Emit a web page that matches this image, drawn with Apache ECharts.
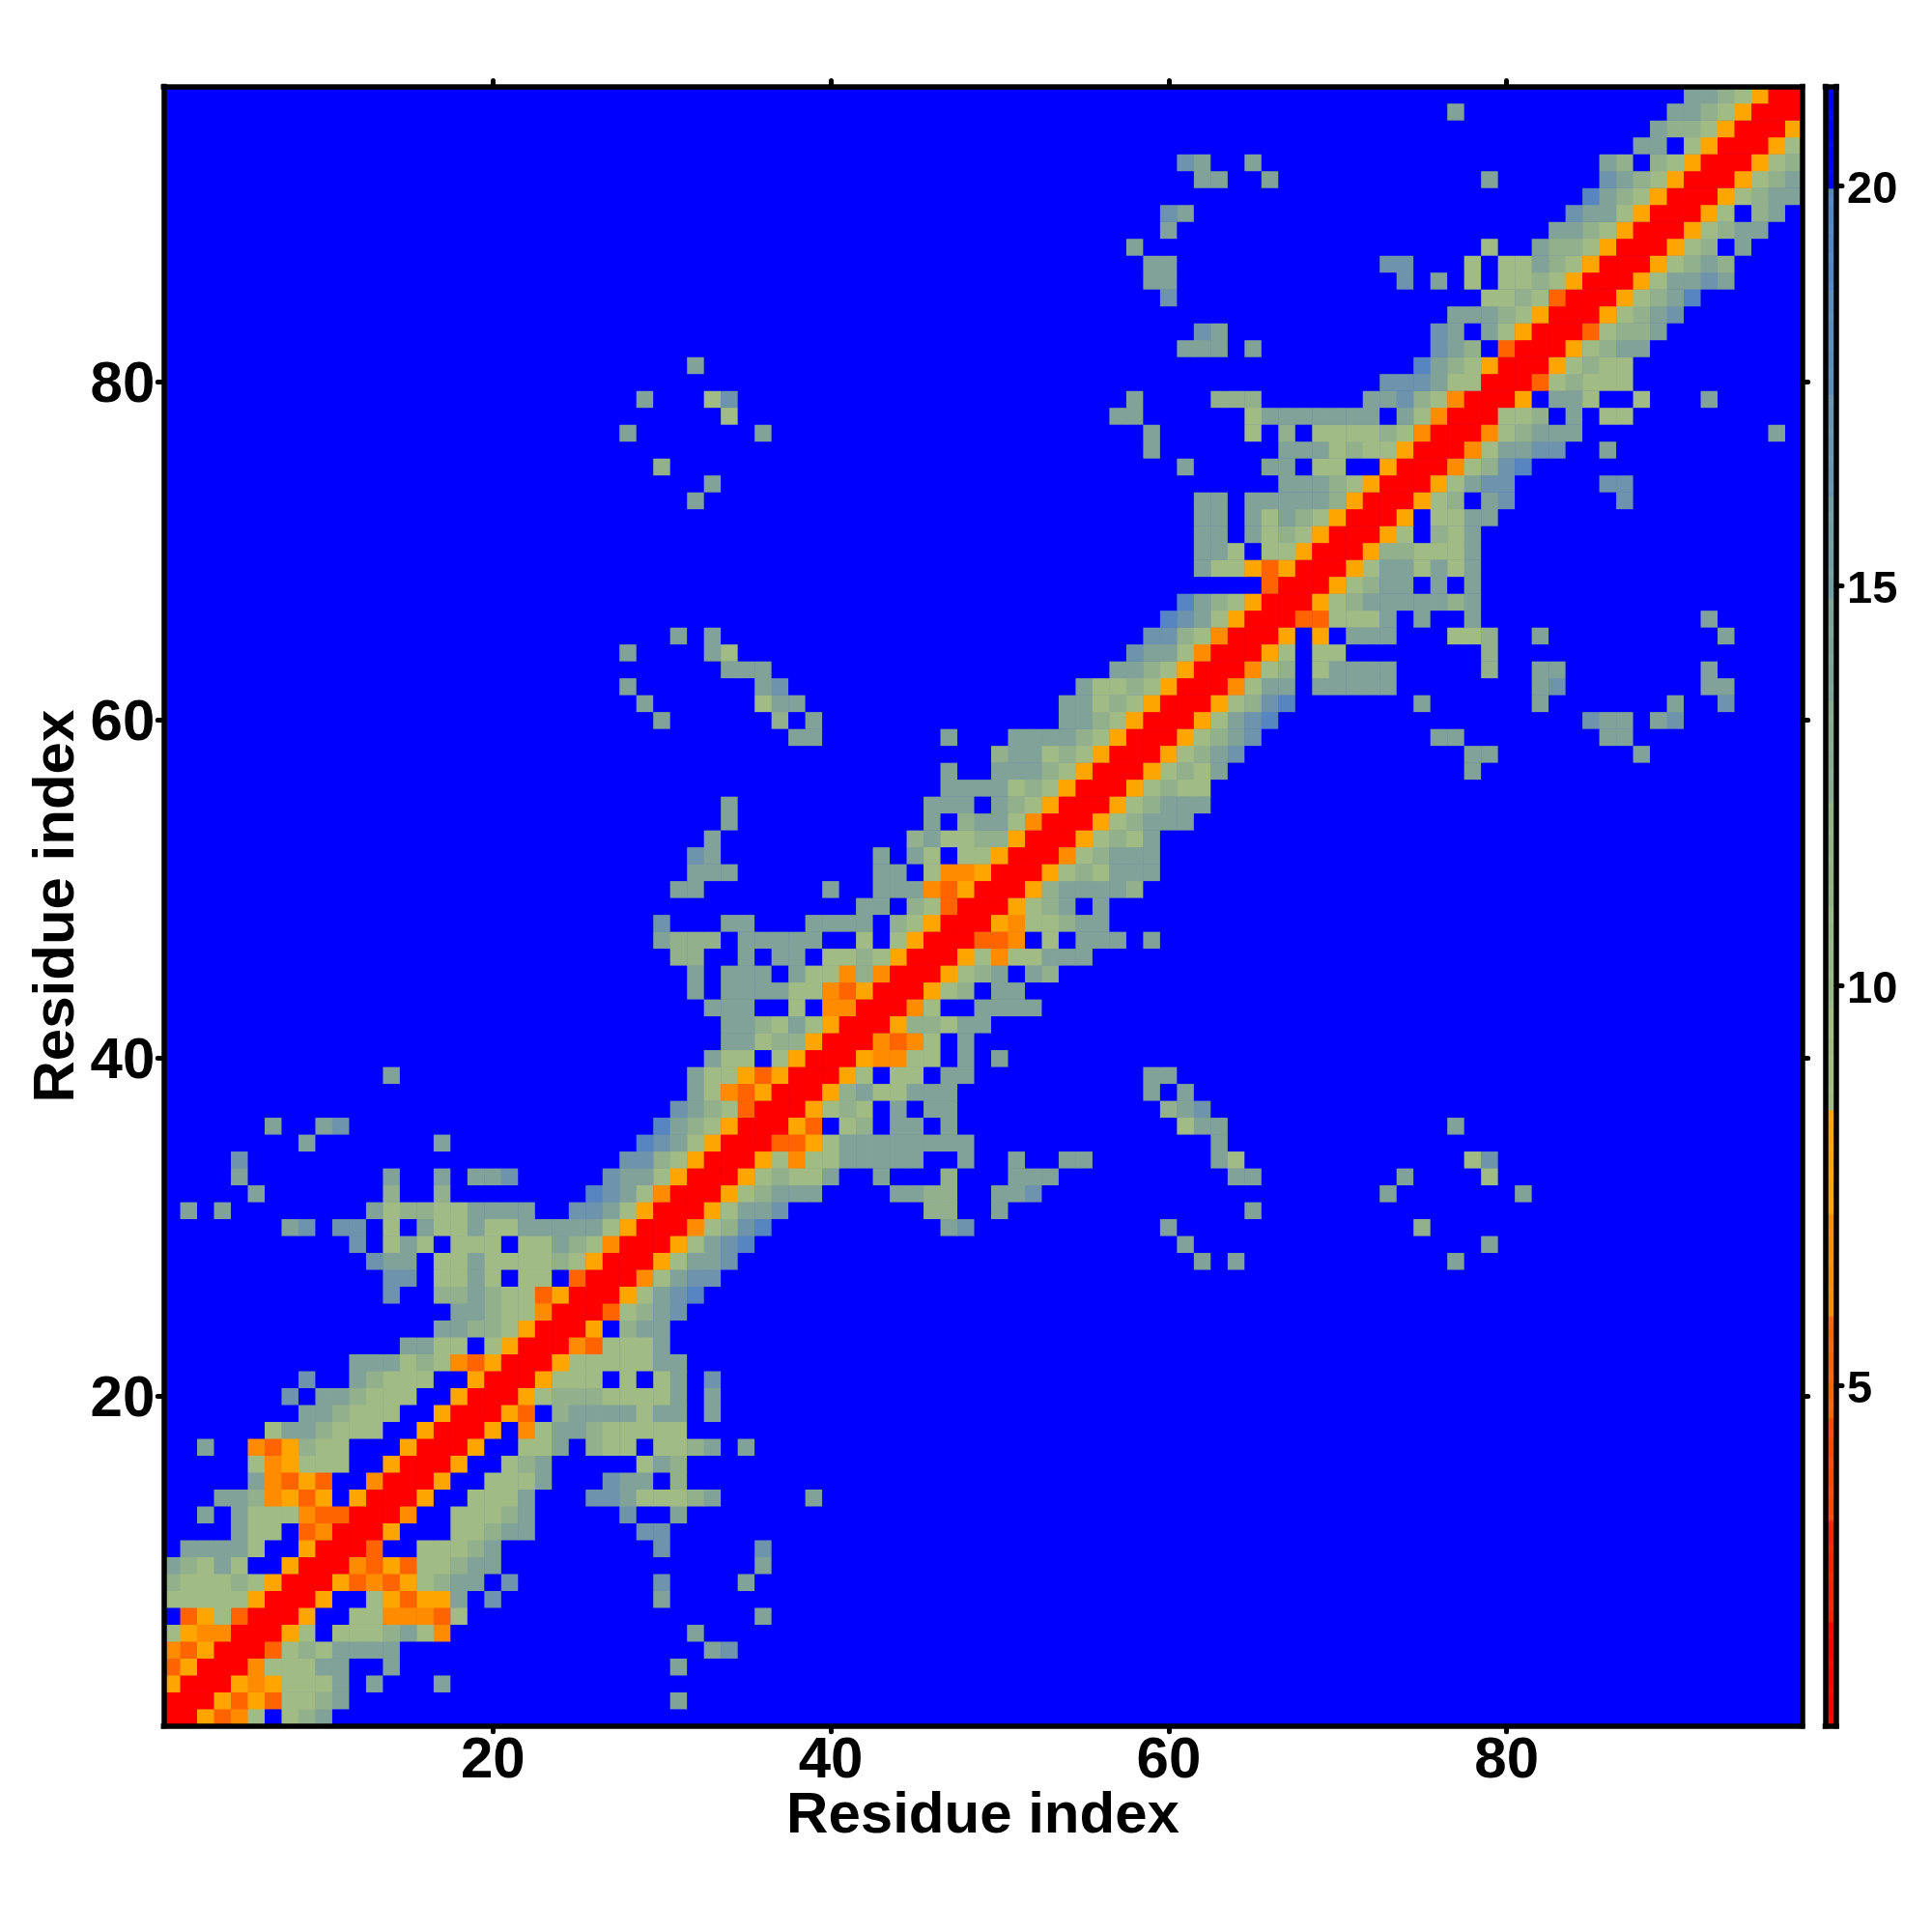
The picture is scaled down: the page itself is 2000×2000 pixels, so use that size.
<!DOCTYPE html>
<html>
<head>
<meta charset="utf-8">
<style>html,body{margin:0;padding:0;background:#fff}#c{width:2000px;height:2000px}</style>
<script src="https://cdn.jsdelivr.net/npm/echarts@6/dist/echarts.min.js"></script>
</head>
<body>
<div id="c"></div>
<script>
// Distance-map rows: each string starts on the diagonal (x = row) and runs along x.
const bandRows = [
"rraod1.123","rraoao1123","rrada1113.3...3","rrd11133..3","rro1213333","rra1.111231d","rra..11dddo1","rra..1aoaa3.4",
"rraodoa1233.4","rrdoao11233","rro..11123","rra...11233","rrd..11123","rra..1113","rra..1113","rra..123",
"rra..113.211.1123.3","rra.d133211111","rrao.23333133.3","rra122211113.3","rra111.1.13.4","rra1111133","rrdo1113","rra.233",
"rro1234","rra1345","rrd1344","rra1334","rra1345","rrd1245","rra1334","rra12333",
"rra12113","rra1d1133333","rrooa133333333","rrao.12.33.3","rra121.3.33","rra2311333","rra1.11.33","rradd11.3.3",
"rrdod1.3","rra22133","rrd1..3333","rra12.33","rra123.32","rra1d11333","rrood.1.333.3","rrad11233",
"rra123.3","rra233332","rra121333","rrd12333","rra1213","rra12333","rra12333","rra1211",
"rra1213","rra1234","rra1234","rra1345","rra1245","rrd133.33333","rrd12.13333","rra1.11",
"rra.a.333","rroo1113.3","rra123333323","rra1233.3.3","rra1331313","rra221113","rra1.213","rra.1133",
"rra12.34","rra1344","rrd1245","rrd13344","rrd12333","rr112.3.11","rra.331..1","rro12111",
"rra1211","rra1233","rro1223","rra1234","rra1235","rra13343","rra1232","rra12.3",
"rra1233","rra1.23","rra1233","rra123","rra12","rra1","rra","rr","r"
];
// Isolated long-range contacts: [row, column, level]
const contacts = [
[2,31,"3"],[4,31,"3"],[5,33,"3"],[5,34,"4"],[6,32,"3"],[7,36,"3"],[8,30,"3"],[9,30,"4"],[9,35,"3"],[10,36,"3"],
[11,30,"4"],[11,36,"4"],[12,29,"4"],[12,30,"4"],[13,28,"4"],[13,31,"3"],
[14,26,"4"],[14,27,"4"],[14,28,"3"],[14,29,"1"],[14,30,"1"],[14,31,"1"],[14,32,"2"],[14,33,"3"],[14,39,"3"],
[15,27,"4"],[15,28,"3"],[15,29,"3"],[15,31,"2"],[16,29,"1"],[16,30,"3"],[16,31,"2"],
[28,62,"3"],[28,64,"3"],[28,77,"3"],[29,61,"3"],[29,79,"3"],
[30,47,"3"],[30,48,"4"],[30,60,"3"],[30,75,"2"],
[31,46,"2"],[31,47,"2"],[31,50,"3"],[31,65,"3"],
[32,44,"3"],[32,45,"3"],[32,46,"2"],[32,47,"2"],[32,50,"3"],[32,51,"3"],[32,52,"4"],[32,73,"3"],[32,81,"3"],
[33,43,"3"],[33,47,"2"],[33,51,"3"],[33,52,"3"],[33,53,"3"],[33,64,"3"],[33,65,"3"],[33,74,"3"],[33,79,"1"],
[34,48,"3"],[34,51,"3"],[34,54,"3"],[34,55,"3"],[34,63,"3"],[34,64,"1"],[34,78,"1"],[34,79,"4"],
[35,63,"3"],[36,61,"1"],[36,62,"3"],[36,63,"3"],[36,77,"3"],
[37,60,"2"],[37,61,"3"],[37,62,"4"],[38,59,"3"],[38,61,"3"],[39,59,"3"],[39,60,"3"],
[57,78,"3"],[58,78,"3"],[58,79,"3"],[58,88,"3"],
[59,76,"3"],[59,77,"3"],[59,86,"3"],[59,87,"3"],
[60,85,"4"],[60,86,"3"],[60,87,"3"],[60,89,"3"],[60,90,"4"],
[61,75,"3"],[61,82,"3"],[61,90,"3"],[61,93,"4"],
[62,82,"3"],[62,83,"4"],[62,92,"3"],[62,93,"3"],
[63,79,"2"],[63,82,"3"],[63,83,"3"],[63,92,"3"],[64,79,"2"],
[65,77,"1"],[65,78,"1"],[65,79,"2"],[65,82,"3"],[65,93,"3"],[66,78,"3"],[66,92,"3"],
[73,87,"4"],[74,86,"4"],[74,87,"4"],[76,86,"3"],[77,96,"3"],[79,92,"3"]
];
// Estimated value (Å) for each cell code
const levelValues = {r:1.4,o:5.2,d:6.5,a:7.8,"1":9.1,"2":11.7,"3":14.2,"4":16.8,"5":19.3,".":20.6};
const bandEdges = [0.7,2.03,3.31,4.59,5.87,7.15,8.44,9.72,11.0,12.28,13.56,14.84,16.12,17.4,18.68,19.97,21.3];
const bandColors = ["#ff0000","#ff2200","#ff4800","#ff6400","#ff8c00","#ffa500","#a1bb85","#9ab689","#93b08c","#8aaa91","#80a298","#789ca3","#6d94ac","#618cb6","#5685c2","#0000ff"];
const residueCount = 97;
const axisTicks = [20,40,60,80];
const colorbarTicks = [5,10,15,20];
const axisTitle = "Residue index";

const residues = Array.from({length:residueCount},(_,i)=>String(i+1));
const cells = Array.from({length:residueCount},()=>new Array(residueCount).fill(levelValues["."]));
function setCell(row,col,level){ cells[row-1][col-1]=levelValues[level]; cells[col-1][row-1]=levelValues[level]; }
bandRows.forEach((s,i)=>{ for(let k=0;k<s.length;k++) if(s[k]!==".") setCell(i+1,i+1+k,s[k]); });
contacts.forEach(c=>setCell(c[0],c[1],c[2]));
const mapData=[];
for(let y=0;y<residueCount;y++) for(let x=0;x<residueCount;x++) mapData.push([x,y,cells[y][x]]);

const scaleSteps = Array.from({length:820},(_,i)=>(0.75+0.025*i).toFixed(3));
const scaleData = scaleSteps.map((v,i)=>[0,i,Number(v)]);
const pieces = bandColors.map((c,i)=>({gte:bandEdges[i],lt:bandEdges[i+1],color:c}));

const font = "Liberation Sans";
const mainTick = (i,v)=>axisTicks.includes(Number(v));
const barTick = (i,v)=>colorbarTicks.includes(Number(v));
const line = {show:true,onZero:false,lineStyle:{color:"#000",width:5.5,cap:"square"}};
const tick = (interval,len)=>({show:true,inside:false,length:len,alignWithLabel:true,interval,lineStyle:{color:"#000",width:5,cap:"round"}});
const mainLabel = {show:true,interval:mainTick,color:"#000",fontFamily:font,fontWeight:"bold",fontSize:60};
const nameStyle = {color:"#000",fontFamily:font,fontWeight:"bold",fontSize:60};
function cat(data,pos,idx,extra){
  return Object.assign({type:"category",data,position:pos,gridIndex:idx,boundaryGap:true,z:10,axisLine:line,splitLine:{show:false},splitArea:{show:false},axisLabel:{show:false},axisTick:{show:false}},extra||{});
}

const chart = echarts.init(document.getElementById("c"),null,{renderer:"canvas",width:2000,height:2000});
chart.setOption({
  animation:false,
  backgroundColor:"#fff",
  grid:[
    {left:169.3,top:89.5,width:1696.4,height:1697.2,show:true,backgroundColor:"#0000ff",borderWidth:0},
    {left:1889.5,top:89.5,width:11.5,height:1697.2,show:false}
  ],
  xAxis:[
    cat(residues,"bottom",0,{axisLabel:Object.assign({margin:7},mainLabel),axisTick:tick(mainTick,6),name:axisTitle,nameLocation:"middle",nameGap:64,nameMoveOverlap:false,nameTextStyle:nameStyle}),
    cat(residues,"top",0,{axisTick:tick(mainTick,6)}),
    cat(["c"],"bottom",1),
    cat(["c"],"top",1)
  ],
  yAxis:[
    cat(residues,"left",0,{axisLabel:Object.assign({margin:9,verticalAlign:"top",lineHeight:8},mainLabel),axisTick:tick(mainTick,6),name:axisTitle,nameLocation:"middle",nameGap:80,nameRotate:90,nameMoveOverlap:false,nameTextStyle:nameStyle}),
    cat(residues,"right",0,{axisTick:tick(mainTick,6)}),
    cat(scaleSteps,"left",1),
    cat(scaleSteps,"right",1,{axisTick:tick(barTick,6),axisLabel:{show:true,interval:barTick,margin:11,verticalAlign:"top",lineHeight:10,color:"#000",fontFamily:font,fontWeight:"bold",fontSize:47,formatter:v=>String(Number(v))}})
  ],
  visualMap:{type:"piecewise",show:false,dimension:2,seriesIndex:[0,1],pieces},
  series:[
    {type:"heatmap",xAxisIndex:0,yAxisIndex:0,data:mapData,progressive:0,emphasis:{disabled:true},itemStyle:{borderWidth:0}},
    {type:"heatmap",xAxisIndex:2,yAxisIndex:2,data:scaleData,progressive:0,emphasis:{disabled:true},itemStyle:{borderWidth:0}}
  ]
});
</script>
</body>
</html>
